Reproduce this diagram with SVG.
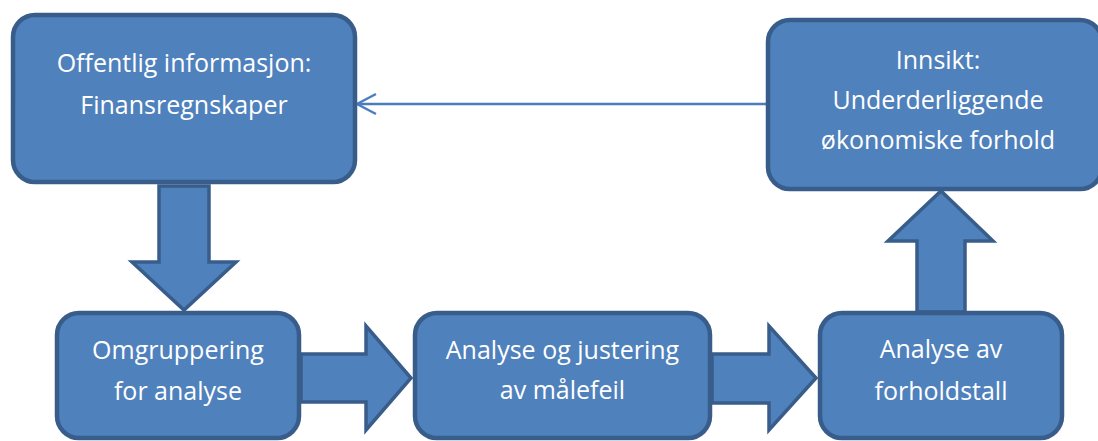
<svg xmlns="http://www.w3.org/2000/svg" width="1098" height="441" viewBox="0 0 1098 441">
  <style>
    .box { fill: #4f81bd; stroke: #385d8a; stroke-width: 4.5; }
    .blk { fill: #4f81bd; stroke: #385d8a; stroke-width: 3.5; stroke-linejoin: miter; }
    .lbl { fill: #ffffff; font-family: "Open Sans", "Liberation Sans", sans-serif; font-size: 25px; text-anchor: middle; }
    .link { fill: none; stroke: #4a7ebb; stroke-width: 2.4; }
  </style>
  <defs>
    <!-- open chevron head; tip sits on the end point of the line -->
    <marker id="open-arrow" markerUnits="userSpaceOnUse" markerWidth="26" markerHeight="26" viewBox="0 0 26 26" refX="23" refY="13" orient="auto">
      <path d="M4,3 L23,13 L4,23" fill="none" stroke="#4a7ebb" stroke-width="2.4"/>
    </marker>
  </defs>

  <!-- block arrows between steps -->
  <g id="connectors">
    <polygon class="blk" points="159,186 209,186 209,262 236,262 184,310 132,262 159,262"/>
    <polygon class="blk" points="301,354 366,354 366,326 411,378 366,430 366,402 301,402"/>
    <polygon class="blk" points="712,354 769,354 769,326 816,378 769,430 769,403 712,403"/>
    <polygon class="blk" points="917,312 917,241 888,241 941,191 993,241 965,241 965,312"/>
    <line class="link" x1="766" y1="104" x2="357" y2="104" marker-end="url(#open-arrow)"/>
  </g>

  <g id="node-offentlig">
    <rect class="box" x="13" y="15" width="342" height="167" rx="22"/>
    <text class="lbl" x="184" y="72">Offentlig informasjon:</text>
    <text class="lbl" x="184" y="114">Finansregnskaper</text>
  </g>

  <g id="node-innsikt">
    <rect class="box" x="768" y="20" width="334" height="169" rx="22"/>
    <text class="lbl" x="938" y="69">Innsikt:</text>
    <text class="lbl" x="938" y="109">Underderliggende</text>
    <text class="lbl" x="938" y="149">økonomiske forhold</text>
  </g>

  <g id="node-omgruppering">
    <rect class="box" x="57" y="313" width="242" height="125" rx="22"/>
    <text class="lbl" x="178" y="359">Omgruppering</text>
    <text class="lbl" x="178" y="400">for analyse</text>
  </g>

  <g id="node-justering">
    <rect class="box" x="415" y="313" width="295" height="125" rx="22"/>
    <text class="lbl" x="562.5" y="359">Analyse og justering</text>
    <text class="lbl" x="562.5" y="399">av målefeil</text>
  </g>

  <g id="node-forholdstall">
    <rect class="box" x="820" y="313" width="242" height="125" rx="22"/>
    <text class="lbl" x="941" y="358">Analyse av</text>
    <text class="lbl" x="941" y="400">forholdstall</text>
  </g>
</svg>
